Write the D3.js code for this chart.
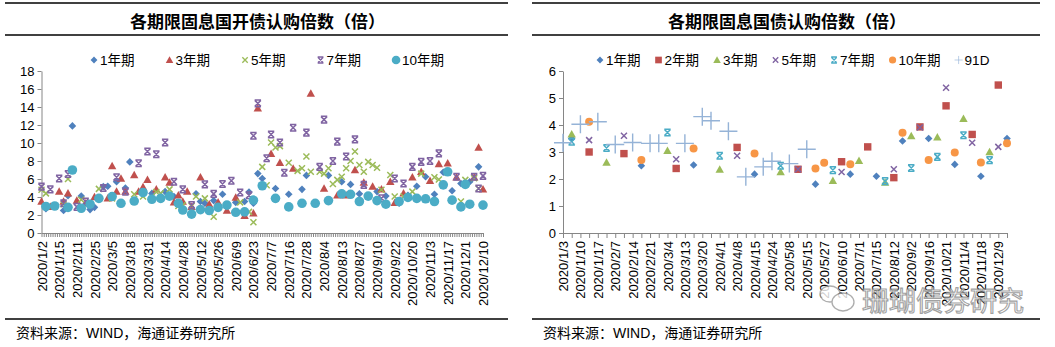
<!DOCTYPE html>
<html>
<head>
<meta charset="utf-8">
<script src="https://cdn.jsdelivr.net/npm/d3@7"></script>
<style>
  body { margin: 0; background: #fff; }
  svg text { font-family: "Liberation Sans", Arial, "Noto Sans CJK SC", sans-serif; }
</style>
</head>
<body>
<div id="chart"></div>
<script>
// ---- left chart: CDB fixed-rate bonds, bid-to-cover ratio ----
const leftLabels = ["2020/1/2","2020/1/15","2020/2/11","2020/2/25","2020/3/5","2020/3/18","2020/3/31","2020/4/14",
  "2020/4/28","2020/5/12","2020/5/26","2020/6/9","2020/6/23","2020/7/7","2020/7/16","2020/7/28","2020/8/4",
  "2020/8/13","2020/8/27","2020/9/10","2020/9/22","2020/10/20","2020/11/3","2020/11/17","2020/12/1","2020/12/10"];
const leftCount = 201;   // categories on the axis, a label every 8th

// [category index, value]
const kdb1y = [[2,2.7],[10,2.5],[12,4.15],[14,11.9],[18,4.1],[22,2.6],[24,2.85],[28,5.15],[30,5.2],[34,5.7],[38,5.0],
  [40,7.9],[46,4.6],[50,4.4],[56,4.6],[60,4.05],[70,4.35],[72,3.5],[74,3.3],[78,3.6],[82,4.3],[88,3.4],[92,3.5],
  [94,4.55],[96,3.3],[98,6.6],[100,6.05],[106,4.95],[112,4.3],[118,4.85],[120,6.4],[130,6.4],[136,5.7],[140,5.4],
  [144,4.35],[152,4.6],[156,4.1],[162,3.3],[166,4.2],[170,5.2],[174,6.25],[178,4.3],[182,6.75],[186,4.7],[190,5.5],
  [194,5.7],[198,7.35]];
const kdb3y = [[0,3.5],[4,2.9],[8,4.6],[10,3.5],[12,4.4],[16,3.6],[20,3.3],[24,4.0],[30,3.85],[32,7.45],[34,4.6],
  [36,6.05],[38,4.6],[42,6.45],[44,4.6],[46,5.1],[48,5.9],[52,4.85],[56,6.2],[58,5.6],[60,3.4],[62,4.2],[64,3.5],
  [66,4.6],[68,2.9],[72,6.2],[76,3.2],[80,3.4],[84,2.5],[88,3.95],[92,1.9],[96,2.2],[98,13.85],[104,8.8],[108,7.8],
  [114,7.15],[122,15.5],[128,4.95],[134,4.2],[138,4.2],[142,7.0],[146,5.6],[150,5.15],[154,4.85],[158,5.7],
  [160,3.35],[164,4.4],[168,6.2],[172,6.8],[176,5.8],[180,7.65],[184,7.75],[188,6.2],[196,6.2],[198,9.5],[200,4.85]];
const kdb5y = [[0,4.8],[2,4.4],[10,3.2],[12,6.0],[18,3.7],[26,4.9],[32,3.85],[42,4.3],[46,4.05],[52,4.55],[54,4.4],
  [58,4.85],[62,3.0],[64,3.1],[68,3.0],[70,4.05],[74,3.85],[78,1.8],[84,3.1],[90,3.4],[94,2.35],[96,1.2],[100,7.35],
  [102,5.3],[104,10.05],[106,9.5],[108,9.65],[112,7.8],[116,6.9],[118,7.2],[120,8.5],[122,6.8],[126,6.8],[128,6.6],
  [130,7.2],[132,5.45],[134,5.9],[136,6.25],[138,7.2],[140,8.0],[142,9.05],[144,7.55],[146,6.8],[148,7.9],[150,7.55],
  [152,7.25],[154,4.8],[158,6.45],[160,4.05],[164,4.05],[168,4.6],[172,6.6],[178,6.2],[180,5.95],[184,6.7],[190,3.5],
  [192,5.9],[196,6.1],[198,4.95]];
const kdb7y = [[0,5.15],[4,4.85],[8,6.05],[10,3.3],[12,6.55],[16,2.9],[20,3.5],[28,5.0],[34,6.2],[38,4.6],[44,7.75],
  [48,9.05],[52,8.75],[56,10.05],[60,5.7],[64,4.85],[68,3.1],[74,5.4],[78,4.35],[82,5.45],[86,5.8],[90,4.5],[94,4.2],
  [96,10.8],[98,14.4],[102,8.3],[104,10.95],[108,10.05],[110,6.7],[114,11.7],[120,11.15],[126,7.35],[128,12.6],
  [132,8.0],[134,10.15],[138,8.5],[142,10.4],[146,5.35],[154,3.85],[160,6.05],[164,5.5],[168,7.35],[172,7.9],
  [176,8.0],[180,8.85],[188,6.25],[196,6.25],[198,4.95],[200,6.35]];
const kdb10y = [[2,2.95],[6,3.0],[12,2.85],[14,7.0],[18,2.75],[22,3.2],[26,3.85],[32,4.05],[36,3.3],[42,3.55],[46,4.5],
  [50,3.75],[54,3.85],[58,4.1],[62,3.3],[64,2.55],[68,2.1],[72,2.6],[76,2.5],[80,2.85],[84,3.1],[88,2.3],[92,2.35],
  [96,3.65],[100,5.25],[106,3.85],[112,2.9],[118,3.3],[124,3.3],[130,3.6],[136,4.35],[140,4.3],[144,3.5],[148,4.1],
  [152,3.6],[156,3.2],[162,3.5],[166,3.95],[170,3.85],[174,3.8],[178,3.5],[182,5.35],[184,6.8],[186,3.65],[190,2.9],
  [192,5.4],[194,3.2],[200,3.1]];

// ---- right chart: treasury fixed-rate bonds ----
const rightLabels = ["2020/1/3","2020/1/10","2020/1/17","2020/2/7","2020/2/14","2020/2/21","2020/3/4","2020/3/13",
  "2020/3/20","2020/4/1","2020/4/8","2020/4/15","2020/4/24","2020/5/8","2020/5/15","2020/5/27","2020/6/10","2020/7/1",
  "2020/7/15","2020/8/12","2020/9/2","2020/9/16","2020/10/21","2020/11/4","2020/11/18","2020/12/9"];
const rightCount = 52;   // a label every 2nd category

const gov1y = [[1,3.5],[9,2.49],[15,2.52],[22,2.18],[29,1.81],[33,2.18],[36,2.1],[39,3.41],[42,3.5],[45,2.54],[48,2.1],[51,3.5]];
const gov2y = [[3,3.0],[7,2.94],[13,2.39],[20,3.17],[27,2.36],[32,2.64],[35,3.19],[38,2.05],[41,3.93],[44,4.71],[47,3.65],[50,5.48]];
const gov3y = [[1,3.66],[5,2.61],[12,3.04],[18,2.35],[25,2.26],[31,1.93],[34,2.67],[37,1.87],[40,3.59],[43,3.54],[46,4.23],[49,3.0]];
const gov5y = [[3,3.44],[7,3.6],[13,2.73],[20,2.86],[27,2.36],[32,2.26],[38,2.36],[41,3.91],[44,5.38],[47,3.34],[50,3.19]];
const gov7y = [[1,3.38],[5,3.15],[12,3.72],[18,2.86],[25,2.49],[31,2.33],[37,1.92],[40,2.41],[43,2.82],[46,3.62],[49,2.7]];
const gov10y = [[3,4.12],[9,2.7],[15,3.13],[22,2.94],[29,2.39],[30,2.6],[33,2.55],[39,3.71],[42,2.7],[45,2.98],[48,2.61],[51,3.32]];
const gov91d = [[0,3.34],[2,4.03],[4,4.12],[6,3.28],[8,3.35],[10,3.32],[11,3.32],[14,3.32],[16,4.31],[17,4.16],
  [19,3.77],[21,2.08],[23,2.45],[24,2.66],[26,2.57],[28,3.1]];

const axisColor = "#868686";

const svg = d3.select("#chart")
  .append("svg")
    .attr("width", 1055)
    .attr("height", 347);

// excel-like marker shapes
const shapes = {
  diamond: (g, c) => g.append("path").attr("d", "M0,-3.8L3.8,0L0,3.8L-3.8,0Z").attr("fill", c),
  triangle: (g, c) => g.append("path").attr("d", "M0,-4.3L4.2,3.2L-4.2,3.2Z").attr("fill", c),
  square: (g, c) => g.append("rect").attr("x", -3.7).attr("y", -3.7).attr("width", 7.4).attr("height", 7.4).attr("fill", c),
  circle: (g, c, r) => g.append("circle").attr("r", r).attr("fill", c),
  cross: (g, c) => g.append("path").attr("d", "M-3,-3L3,3M-3,3L3,-3").attr("stroke", c).attr("stroke-width", 1.5).attr("fill", "none"),
  star: (g, c) => g.append("path").attr("d", "M-3,-3L3,3M-3,3L3,-3M-3.2,-3.3H3.2M-3.2,3.3H3.2")
    .attr("stroke", c).attr("stroke-width", 1.5).attr("fill", "none"),
  plus: (g, c) => g.append("path").attr("d", "M-9,0H9M0,-9V9").attr("stroke", c).attr("stroke-width", 1.4).attr("fill", "none")
};

function drawPanel(opt) {
  const g = svg.append("g");

  // header / footer rules
  [3, 35, 319].forEach(yy => {
    g.append("line")
      .attr("x1", opt.frame[0]).attr("x2", opt.frame[1])
      .attr("y1", yy).attr("y2", yy)
      .attr("stroke", "#000").attr("stroke-width", 1.3);
  });

  g.append("text")
    .attr("x", (opt.frame[0] + opt.frame[1]) / 2 + 1)
    .attr("y", 20)
    .attr("text-anchor", "middle")
    .attr("dominant-baseline", "central")
    .attr("font-size", 17)
    .attr("font-weight", "bold")
    .style("font-family", "'Noto Sans CJK SC', sans-serif")
    .text(opt.title);

  g.append("text")
    .attr("x", opt.frame[0] + 11)
    .attr("y", 333)
    .attr("dominant-baseline", "central")
    .attr("font-size", 14)
    .text("资料来源：WIND，海通证券研究所");

  const x = d3.scaleLinear().domain([0, opt.count - 1]).range([opt.x0, opt.x1]);
  const y = d3.scaleLinear().domain([0, opt.yMax]).range([233, 71]);

  // y axis
  const ya = g.append("g")
    .attr("transform", `translate(${opt.x0},0)`)
    .call(d3.axisLeft(y)
      .tickValues(d3.range(0, opt.yMax + 1, opt.yStep))
      .tickFormat(d3.format("d"))
      .tickSize(4).tickPadding(3).tickSizeOuter(0));
  ya.select(".domain").attr("stroke", axisColor);
  ya.selectAll(".tick line").attr("stroke", axisColor);
  ya.selectAll("text").attr("font-size", 13).attr("fill", "#000");

  // x axis, a tick at every category, labels rotated
  const xa = g.append("g")
    .attr("transform", `translate(0,${y(0)})`)
    .call(d3.axisBottom(x)
      .tickValues(d3.range(opt.count))
      .tickSize(opt.tickLen)
      .tickSizeOuter(0)
      .tickFormat(i => i % opt.labelEvery === 0 ? opt.labels[i / opt.labelEvery] : ""));
  xa.select(".domain").attr("stroke", axisColor);
  xa.selectAll(".tick line").attr("stroke", axisColor);
  xa.selectAll("text")
    .attr("transform", "rotate(-90)")
    .attr("text-anchor", "end")
    .attr("x", -8)
    .attr("y", 0)
    .attr("dy", "0.35em")
    .attr("font-size", 13)
    .attr("fill", "#000");

  // points
  opt.series.forEach(s => {
    g.append("g").selectAll("g")
      .data(s.data)
      .enter().append("g")
        .attr("transform", d => `translate(${x(d[0])},${y(d[1])})`)
        .each(function() { shapes[s.shape](d3.select(this), s.color, s.r); });
  });

  // legend
  let lx = opt.legendX;
  opt.series.forEach(s => {
    const item = g.append("g").attr("transform", `translate(${lx},60)`);
    shapes[s.shape](item.append("g").attr("transform", s.shape === "plus" ? "scale(0.45)" : "scale(0.9)"), s.color, s.r);
    const t = item.append("text")
      .attr("x", 6)
      .attr("dominant-baseline", "central")
      .attr("font-size", 13.5)
      .text(s.name);
    lx += t.node().getComputedTextLength() + opt.legendGap;
  });

  return g;
}

drawPanel({
  frame: [5, 508],
  title: "各期限固息国开债认购倍数（倍）",
  x0: 41.5, x1: 483,
  count: leftCount, labels: leftLabels, labelEvery: 8, tickLen: 4,
  yMax: 18, yStep: 2,
  legendX: 94, legendGap: 41,
  series: [
    { name: "1年期", data: kdb1y, shape: "diamond", color: "#4F81BD" },
    { name: "3年期", data: kdb3y, shape: "triangle", color: "#C0504D" },
    { name: "5年期", data: kdb5y, shape: "cross", color: "#9BBB59" },
    { name: "7年期", data: kdb7y, shape: "star", color: "#8064A2" },
    { name: "10年期", data: kdb10y, shape: "circle", color: "#4BACC6", r: 4.8 }
  ]
});

const right = drawPanel({
  frame: [532, 1040],
  title: "各期限固息国债认购倍数（倍）",
  x0: 563, x1: 1007,
  count: rightCount, labels: rightLabels, labelEvery: 2, tickLen: 5,
  yMax: 6, yStep: 1,
  legendX: 600, legendGap: 24,
  series: [
    { name: "1年期", data: gov1y, shape: "diamond", color: "#4F81BD" },
    { name: "2年期", data: gov2y, shape: "square", color: "#C0504D" },
    { name: "3年期", data: gov3y, shape: "triangle", color: "#9BBB59" },
    { name: "5年期", data: gov5y, shape: "cross", color: "#8064A2" },
    { name: "7年期", data: gov7y, shape: "star", color: "#4BACC6" },
    { name: "10年期", data: gov10y, shape: "circle", color: "#F79646", r: 4 },
    { name: "91D", data: gov91d, shape: "plus", color: "#95B3D7" }
  ]
});

// watermark over the right panel
const wm = right.append("g").attr("opacity", 0.8);
wm.append("ellipse").attr("cx", 830).attr("cy", 294).attr("rx", 10).attr("ry", 8)
  .attr("fill", "#fff").attr("stroke", "#999").attr("stroke-width", 1.3);
wm.append("ellipse").attr("cx", 843).attr("cy", 302).attr("rx", 11).attr("ry", 9)
  .attr("fill", "#fff").attr("stroke", "#999").attr("stroke-width", 1.3);
wm.append("text")
  .attr("x", 862).attr("y", 299)
  .attr("dominant-baseline", "central")
  .attr("font-size", 27)
  .attr("fill", "#fff")
  .attr("stroke", "#8a8a8a")
  .attr("stroke-width", 1.1)
  .style("font-family", "'Noto Sans CJK SC', sans-serif")
  .text("珊瑚债券研究");
</script>
</body>
</html>
